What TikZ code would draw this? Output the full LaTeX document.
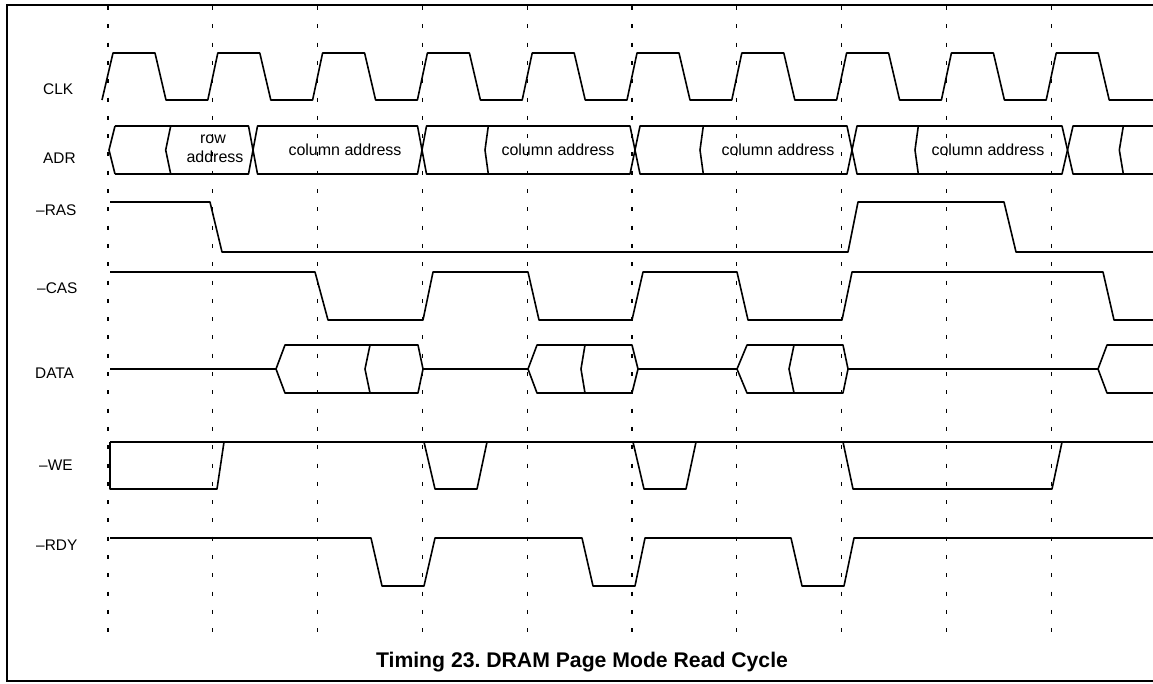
\documentclass[tikz,border=0pt]{standalone}
\usepackage{fontspec}
\setmainfont{Liberation Sans}
\frenchspacing
\begin{document}
\begin{tikzpicture}[x=1pt,y=-1pt,
  sig/.style={line width=1.6pt, line join=round},
  gridline/.style={line width=1.1pt, dash pattern=on 4pt off 14.3pt},
  lbl/.style={anchor=base west, inner sep=0pt, font=\fontsize{15.4}{18}\selectfont},
  bustext/.style={anchor=base, inner sep=0pt, font=\fontsize{16}{19}\selectfont},
  titletext/.style={anchor=base, inner sep=0pt, font=\bfseries\fontsize{21.2}{24}\selectfont},
  framel/.style={line width=1.6pt}]
\useasboundingbox (0,0) rectangle (1153,683);

% frame (top, left, bottom)
\draw[framel] (1153,5) -- (7,5) -- (7,681) -- (1153,681);

% clock grid lines
\foreach \k in {0,...,9} {
  \draw[gridline] ({108+104.8*\k},6) -- ({108+104.8*\k},634);
}

% labels
\node[lbl] (lclk) at (43,94.3) {CLK};
\node[lbl] (ladr) at (43,163) {ADR};
\node[lbl] (lras) at (36,215) {–RAS};
\node[lbl] (lcas) at (37,293) {–CAS};
\node[lbl] (ldata) at (35,378) {DATA};
\node[lbl] (lwe) at (39,470) {–WE};
\node[lbl] (lrdy) at (36,550) {–RDY};

% CLK
\draw[sig] (102,100)
  \foreach \k in {0,...,9} {
    -- ({108+104.8*\k+5},53) -- ({108+104.8*\k+47},53)
    -- ({108+104.8*\k+58},100) -- ({108+104.8*\k+99.8},100)
  } -- (1153,100);

% ADR bus
\draw[sig] (115,126) -- (109,150) -- (115,174);
\draw[sig] (115,126) -- (248.5,126) -- (257.5,174) -- (417.5,174) -- (426.5,126) -- (630,126) -- (640,174) -- (847,174) -- (857,126) -- (1062,126) -- (1073,174) -- (1153,174);
\draw[sig] (115,174) -- (248.5,174) -- (257.5,126) -- (417.5,126) -- (426.5,174) -- (630,174) -- (640,126) -- (847,126) -- (857,174) -- (1062,174) -- (1073,126) -- (1153,126);
\draw[sig] (170.7,126) -- (165.7,150) -- (170.7,174);
\draw[sig] (488.3,126) -- (485,150) -- (488.3,174);
\draw[sig] (703.3,126) -- (700,150) -- (703.3,174);
\draw[sig] (918.3,126) -- (915,150) -- (918.3,174);
\draw[sig] (1123.3,126) -- (1119.3,150) -- (1123.3,174);
\node[bustext] (trow) at (213,143.5) {row};
\node[bustext] (traddr) at (215,162.5) {address};
\node[bustext] (tcol1) at (345,155.7) {column address};
\node[bustext] (tcol2) at (558,155.7) {column address};
\node[bustext] (tcol3) at (778,155.7) {column address};
\node[bustext] (tcol4) at (988,155.7) {column address};

% -RAS
\draw[sig] (110,202) -- (210,202) -- (222,252) -- (848,252) -- (858,202) -- (1004,202) -- (1016,252) -- (1153,252);

% -CAS
\draw[sig] (110,272) -- (315,272) -- (328,320) -- (423,320) -- (433,272) -- (528,272) -- (539,320) -- (632,320) -- (643,272) -- (737,272) -- (748,320) -- (842,320) -- (852,272) -- (1103,272) -- (1114,320) -- (1153,320);

% DATA
\draw[sig] (110,369) -- (276,369);
\draw[sig] (276,369) -- (285,345) -- (418,345) -- (423,369) -- (418,393) -- (285,393) -- cycle;
\draw[sig] (370,345) -- (365,369) -- (370,393);
\draw[sig] (423,369) -- (528,369);
\draw[sig] (528,369) -- (537,345) -- (632,345) -- (638,369) -- (632,393) -- (537,393) -- cycle;
\draw[sig] (585,345) -- (581,369) -- (585,393);
\draw[sig] (638,369) -- (737,369);
\draw[sig] (737,369) -- (747,345) -- (843,345) -- (848,369) -- (843,393) -- (747,393) -- cycle;
\draw[sig] (794,345) -- (789,369) -- (794,393);
\draw[sig] (848,369) -- (1098,369);
\draw[sig] (1153,345) -- (1107,345) -- (1098,369) -- (1107,393) -- (1153,393);

% -WE
\draw[sig] (110,442) -- (1153,442);
\draw[sig] (110,442) -- (110,489) -- (217,489) -- (224,442);
\draw[sig] (424,442) -- (435,489) -- (477,489) -- (487,442);
\draw[sig] (633,442) -- (644,489) -- (686,489) -- (696,442);
\draw[sig] (843,442) -- (853,489) -- (1052,489) -- (1062,442);

% -RDY
\draw[sig] (110,538) -- (371,538) -- (382,586) -- (424,586) -- (435,538) -- (582,538) -- (593,586) -- (635,586) -- (645,538) -- (791,538) -- (802,586) -- (844,586) -- (854,538) -- (1153,538);

% title
\node[titletext] (title) at (582,667) {Timing 23. DRAM Page Mode Read Cycle};
\end{tikzpicture}
\end{document}
